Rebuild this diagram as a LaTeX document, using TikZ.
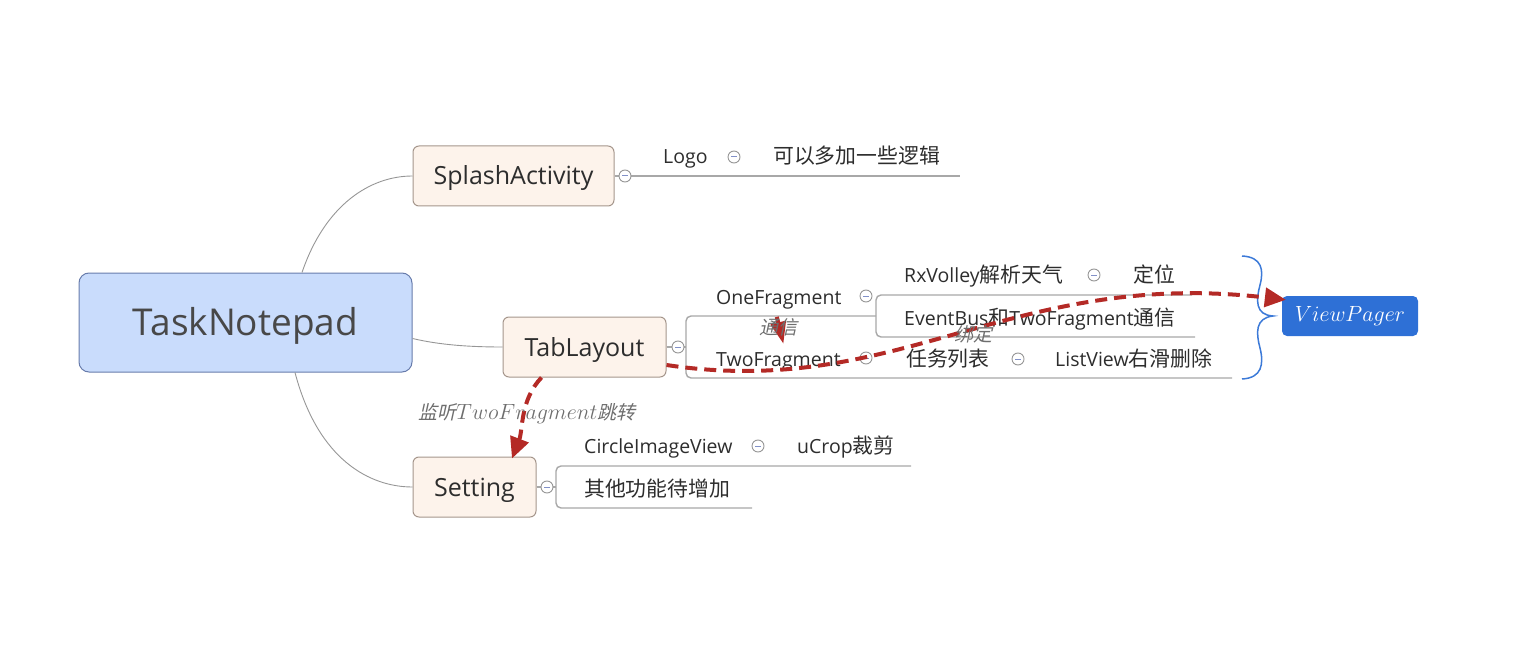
\RequirePackage{fix-cm}
\documentclass[tikz,border=0pt]{standalone}
\usepackage{fontspec}
\setmainfont{Open Sans}
\newfontfamily\cjk[Scale=1.07]{Noto Sans CJK SC}
\newfontfamily\cjkit[FakeSlant=0.22]{Noto Sans CJK SC}
\usetikzlibrary{arrows.meta}
\newcommand{\myfs}[1]{\fontsize{#1}{#1}\selectfont}
\definecolor{rootfill}{RGB}{201,220,252}
\definecolor{rootborder}{RGB}{104,124,172}
\definecolor{mainfill}{RGB}{253,243,235}
\definecolor{mainborder}{RGB}{165,150,140}
\definecolor{textc}{RGB}{45,45,45}
\definecolor{roottext}{RGB}{72,72,72}
\definecolor{linec}{RGB}{168,168,168}
\definecolor{connc}{RGB}{150,150,150}
\definecolor{relred}{RGB}{180,42,38}
\definecolor{lblgray}{RGB}{110,110,110}
\definecolor{collgray}{RGB}{150,150,150}
\definecolor{collblue}{RGB}{130,145,200}
\definecolor{vpblue}{RGB}{46,112,214}
\definecolor{bracec}{RGB}{60,122,216}
\tikzset{
  rootbox/.style={draw=rootborder, fill=rootfill, rounded corners=10, line width=1,
    minimum width=333, minimum height=99, inner sep=0, text=roottext, font=\myfs{37},
    text height=36pt, text depth=9.4pt},
  mainbox/.style={draw=mainborder, fill=mainfill, rounded corners=6, line width=1,
    minimum height=60, inner sep=0, text=textc, font=\myfs{25},
    text height=24pt, text depth=6pt},
  leaf/.style={inner sep=0, text=textc, font=\myfs{19.5}, anchor=base west},
  lbl/.style={inner sep=0, text=lblgray},
  conn/.style={draw=connc, line width=0.9},
  uline/.style={draw=linec, line width=1.4},
  rel/.style={draw=relred, line width=4, dash pattern=on 12 off 7,
    -{Triangle[length=21,width=19]}},
  coll/.style={circle, draw=collgray, fill=white, minimum size=12, inner sep=0, line width=0.9,
    path picture={\draw[collblue, line width=1]
      ([xshift=-3]path picture bounding box.center) -- ([xshift=3]path picture bounding box.center);}},
}
\begin{document}
\begin{tikzpicture}[x=1pt,y=-1pt]
\useasboundingbox (0,0) rectangle (1534,671);

% main topics
\node[rootbox] (root) at (245.5,322.5) {TaskNotepad};
\node[mainbox, minimum width=201] (splash) at (513.5,176) {SplashActivity};
\node[mainbox, minimum width=163] (tab) at (584.5,347) {TabLayout};
\node[mainbox, minimum width=123] (setting) at (474.5,487) {Setting};
\node[fill=vpblue, rounded corners=5, minimum width=136, minimum height=40, inner sep=0,
  text=white, font=\myfs{22}] (vp) at (1350,316) {$ViewPager$};

% connectors from root
\draw[conn] ([xshift=56.5]root.north) .. controls (325,205) and (370,176) .. (splash.west);
\draw[conn] ([yshift=-16]root.east) .. controls (440,345) and (470,347) .. (tab.west);
\draw[conn] ([xshift=49.5]root.south) .. controls (318,460) and (370,487) .. (setting.west);

% coordinates for branch lines
\coordinate (splashend) at (960,176);
\coordinate (tabfork) at (686,347);
\coordinate (setfork) at (556,487);

% Splash branch
\draw[uline] (splash.east) -- (splashend);

% TabLayout branch
\draw[uline] (tab.east) -- (tabfork);
\draw[uline, rounded corners=5] (876,316) -- (686,316) -- (686,378) -- (1232,378);
\draw[uline, rounded corners=5] (1192,295) -- (876,295) -- (876,337) -- (1195,337);

% Setting branch
\draw[uline] (setting.east) -- (setfork);
\draw[uline, rounded corners=5] (911,466) -- (556,466) -- (556,508) -- (752,508);

% leaf texts
\node[leaf] (logo) at (663,164) {Logo};
\node[leaf] (logoc) at (773,164) {\cjk 可以多加一些逻辑};
\node[leaf] (onef) at (716,304) {OneFragment};
\node[leaf] (twof) at (716,366) {TwoFragment};
\node[leaf] (rx) at (904,282) {RxVolley{\cjk 解析天气}};
\node[leaf] (loc) at (1133,282) {\cjk 定位};
\node[leaf] (ev) at (904,325) {EventBus{\cjk 和}TwoFragment{\cjk 通信}};
\node[leaf] (task) at (906,366) {\cjk 任务列表};
\node[leaf] (lv) at (1055,366) {ListView{\cjk 右滑删除}};
\node[leaf] (civ) at (584,453) {CircleImageView};
\node[leaf] (ucrop) at (797,453) {uCrop{\cjk 裁剪}};
\node[leaf] (other) at (584,496) {\cjk 其他功能待增加};

% collapse markers
\node[coll] (c1) at (625,176) {};
\node[coll] (c2) at (678,347) {};
\node[coll] (c3) at (547,487) {};
\node[coll] (c4) at (734,157) {};
\node[coll] (c5) at (866,296) {};
\node[coll] (c6) at (866,358) {};
\node[coll] (c7) at (1094,275) {};
\node[coll] (c8) at (1018,359) {};
\node[coll] (c9) at (758,446) {};

% brace
\draw[bracec, line width=1.5]
  (1242,256) .. controls (1262,257) and (1264,270) .. (1260,285)
  .. controls (1256,300) and (1255,315) .. (1273,316)
  .. controls (1255,318) and (1256,333) .. (1260,348)
  .. controls (1264,364) and (1262,378) .. (1242,379);

% relationships
\draw[rel] ([yshift=-18]tab.east) .. controls (900,400) and (1010,268) .. ([xshift=4,yshift=-4]vp.north west);
\draw[rel] ([xshift=-43]tab.south) .. controls (520,400) and (523,430) .. ([xshift=37.5,yshift=-2]setting.north);
\draw[rel, -{Triangle[length=22,width=15]}] ([xshift=-2,yshift=-8]onef.south) -- ([xshift=5,yshift=8]twof.north);

% relationship labels
\node[lbl, font=\cjkit\myfs{19}] (l1) at (778,327) {通信};
\node[lbl, font=\cjkit\myfs{19}] (l2) at (973,334) {绑定};
\node[lbl] (l3) at (527,414) {{\cjkit\myfs{19}监听}{\myfs{22}$TwoFragment$}{\cjkit\myfs{19}跳转}};
\end{tikzpicture}
\end{document}
